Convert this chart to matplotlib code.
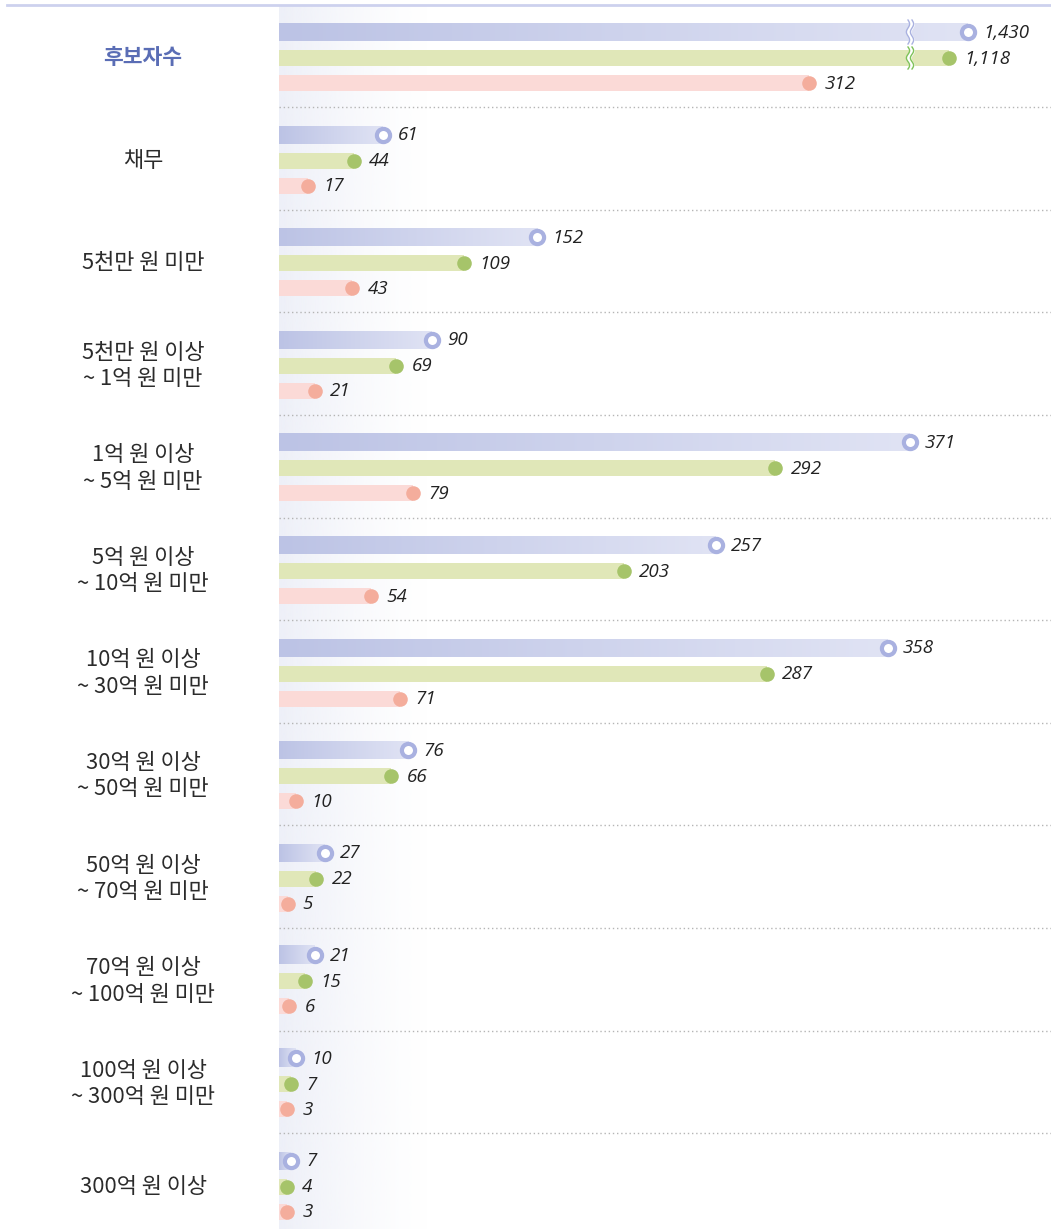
import numpy as np
import matplotlib.pyplot as plt
from matplotlib import transforms
from matplotlib.lines import Line2D
from matplotlib.colors import LinearSegmentedColormap, to_rgb

plt.rcParams['font.family'] = ['Noto Sans CJK KR', 'DejaVu Sans']

# data
groups = ['후보자수', '채무', '5천만 원 미만', '5천만 원 이상\n~ 1억 원 미만',
          '1억 원 이상\n~ 5억 원 미만', '5억 원 이상\n~ 10억 원 미만',
          '10억 원 이상\n~ 30억 원 미만', '30억 원 이상\n~ 50억 원 미만',
          '50억 원 이상\n~ 70억 원 미만', '70억 원 이상\n~ 100억 원 미만',
          '100억 원 이상\n~ 300억 원 미만', '300억 원 이상']
total = [1430, 61, 152, 90, 371, 257, 358, 76, 27, 21, 10, 7]
green = [1118, 44, 109, 69, 292, 203, 287, 66, 22, 15, 7, 4]
pink = [312, 17, 43, 21, 79, 54, 71, 10, 5, 6, 3, 3]

# layout constants (pixels)
W, H = 1051, 1229
X0 = 279            # start of bars
SCALE = 1.7         # px per unit
ROW = 102.6         # px between groups
FIRST = 58          # y of first group centre
TOP = 5
PX = 1 / SCALE      # data units per px (x)
PY = 1 / ROW        # data units per px (y)
BREAK = 371


def shown(v):
    # values above the axis break are compressed
    if v > 1000:
        return BREAK + 19 + (v - 1000) * 0.035
    return v


fig = plt.figure(figsize=(W / 100, H / 100), dpi=100)
ax = fig.add_axes([X0 / W, 0, 1 - X0 / W, 1 - TOP / H])
ax.axis('off')
xmax = (W - X0) * PX
ytop = -(FIRST - TOP) * PY
ybot = (H - FIRST) * PY

# soft background on the left side of the plot area
bg = np.ones((2, 256, 4))
bg[..., :3] = to_rgb('#eef0f8')
bg[..., 3] = np.linspace(1, 0, 256) ** 1.3
ax.imshow(bg, extent=(0, 150 * PX, ybot, ytop), aspect='auto', zorder=0)

blue_cmap = LinearSegmentedColormap.from_list('b', ['#bcc3e5', '#e0e3f4'])
grad = np.linspace(0, 1, 256).reshape(1, -1)

configs = [
    (total, -26 * PY, 18 * PY, '#a9b1e0'),
    (green, 0, 16 * PY, '#a6c46a'),
    (pink, 25 * PY, 16 * PY, '#f4ad9c'),
]

for k, (vals, off, h, mcol) in enumerate(configs):
    for i, v in enumerate(vals):
        y = i + off
        cx = max(shown(v), 8 * PX)
        if k == 0:
            ax.imshow(grad, extent=(0, cx, y + h / 2, y - h / 2), aspect='auto',
                      cmap=blue_cmap, zorder=2)
            ax.plot(cx, y, 'o', ms=9.5, mfc='white', mec=mcol, mew=3, zorder=4)
        else:
            bcol = '#e0e7b8' if k == 1 else '#fbdad7'
            ax.barh(y, cx, height=h, left=0, color=bcol, zorder=2)
            ax.plot(cx, y, 'o', ms=10.5, mfc=mcol, mec='none', zorder=4)
        ax.annotate(f'{v:,}', (cx, y), xytext=(11, -0.5), textcoords='offset points',
                    va='center', ha='left', fontsize=13.5, color='#222222',
                    family=['Open Sans', 'DejaVu Sans'], style='italic',
                    fontweight='normal', zorder=5)

# axis break marks on the first group
xb = (910 - X0) * PX
for off, h, col in [(-26 * PY, 18 * PY, '#a9b1e0'), (0, 16 * PY, '#7fc25a')]:
    yy = np.linspace(off - h / 2 - 3 * PY, off + h / 2 + 3 * PY, 60)
    wave = 1.6 * PX * np.sin((yy - yy[0]) / (yy[-1] - yy[0]) * 3 * np.pi)
    ax.fill_betweenx(yy, xb - 2 * PX + wave, xb + 2 * PX + wave, color='white', zorder=3)
    ax.plot(xb - 2 * PX + wave, yy, color=col, lw=1, zorder=3.5)
    ax.plot(xb + 2 * PX + wave, yy, color=col, lw=1, zorder=3.5)

# dotted separators
for i in range(len(groups) - 1):
    ax.axhline(i + 0.48, color='#b5b5b5', lw=1, ls=(0, (1, 2)), zorder=1)

# group labels
tr = transforms.blended_transform_factory(fig.transFigure, ax.transData)
for i, g in enumerate(groups):
    if i == 0:
        ax.text(143 / W, i, g, transform=tr, ha='center', va='center',
                fontsize=15.5, fontweight='bold', color='#5a6db5')
    else:
        ax.text(143 / W, i, g, transform=tr, ha='center', va='center',
                fontsize=15.8, fontweight='light', color='#2b2b2b', linespacing=1.25)

fig.add_artist(Line2D([7 / W, 1], [1 - TOP / H] * 2, color='#cdd1ee', lw=2))

ax.set_xlim(0, xmax)
ax.set_ylim(ybot, ytop)

fig.savefig('out.png', dpi=100)
